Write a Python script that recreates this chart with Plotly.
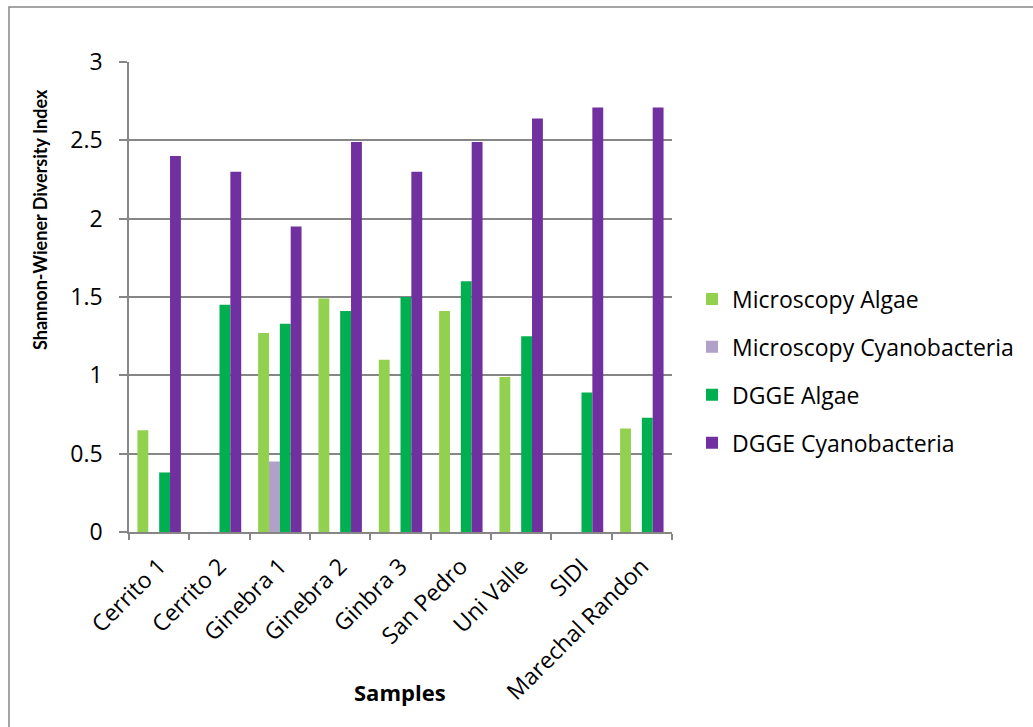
import plotly.graph_objects as go

samples = ["Cerrito 1", "Cerrito 2", "Ginebra 1", "Ginebra 2", "Ginbra 3",
           "San Pedro", "Uni Valle", "SIDI", "Marechal Randon"]
microscopy_algae = [0.65, None, 1.27, 1.49, 1.10, 1.41, 0.99, None, 0.66]
microscopy_cyano = [None, None, 0.45, None, None, None, None, None, None]
dgge_algae = [0.38, 1.45, 1.33, 1.41, 1.50, 1.60, 1.25, 0.89, 0.73]
dgge_cyano = [2.40, 2.30, 1.95, 2.49, 2.30, 2.49, 2.64, 2.71, 2.71]

series = [
    ("Microscopy Algae", microscopy_algae, "#92D050"),
    ("Microscopy Cyanobacteria", microscopy_cyano, "#B1A0C7"),
    ("DGGE Algae", dgge_algae, "#00B050"),
    ("DGGE Cyanobacteria", dgge_cyano, "#7030A0"),
]

FONT = "Open Sans, sans-serif"
fig = go.Figure()
for i, (name, vals, col) in enumerate(series):
    fig.add_trace(go.Bar(x=samples, y=vals, name=name, marker_color=col,
                         marker_line_width=0, legendgroup=str(i)))

W, H = 1033, 727
L, R, T, B = 129, 672, 62, 532
pw, ph = R - L, B - T

fig.update_layout(
    width=W, height=H,
    margin=dict(l=L, r=W - R, t=T, b=H - B, autoexpand=False),
    paper_bgcolor="white", plot_bgcolor="white",
    barmode="group", bargap=0.28, bargroupgap=0,
    font=dict(family=FONT, size=20, color="black"),
    legend=dict(x=(692 - L) / pw, y=(B - 371) / ph, xanchor="left", yanchor="middle",
                font=dict(size=23, family=FONT), tracegroupgap=15,
                itemwidth=30, bgcolor="rgba(0,0,0,0)"),
    showlegend=True,
)
fig.update_yaxes(range=[0, 3], dtick=0.5, showgrid=True, gridcolor="#868686",
                 gridwidth=1.5, showline=True, linecolor="#868686", linewidth=1.5,
                 ticks="outside", ticklen=8, tickcolor="#868686", tickwidth=1.5,
                 tickfont=dict(size=23, family=FONT), zeroline=False,
                 ticklabelstandoff=12)
fig.update_xaxes(showline=True, linecolor="#868686", linewidth=1.5,
                 ticks="outside", tickson="boundaries", ticklen=6,
                 tickcolor="#868686", tickwidth=1.5, tickangle=-45,
                 tickfont=dict(size=23, family=FONT), showgrid=False,
                 ticklabelstandoff=10)

fig.add_annotation(text="<b>Shannon-Wiener Diversity Index</b>", xref="paper", yref="paper",
                   x=(40 - L) / pw, y=(B - 220) / ph, textangle=-90, showarrow=False,
                   font=dict(size=18, family="Lato, sans-serif"),
                   xanchor="center", yanchor="middle")
fig.add_annotation(text="<b>Samples</b>", xref="paper", yref="paper",
                   x=(400 - L) / pw, y=(B - 692) / ph, showarrow=False,
                   font=dict(size=22, family=FONT), xanchor="center", yanchor="middle")

fig.add_shape(type="rect", xref="paper", yref="paper",
              x0=(9 - L) / pw, x1=(1045 - L) / pw,
              y0=(B - 740) / ph, y1=1 + (T - 7) / ph,
              line=dict(color="#868686", width=1.5), layer="below")

fig.write_html("out.html")
